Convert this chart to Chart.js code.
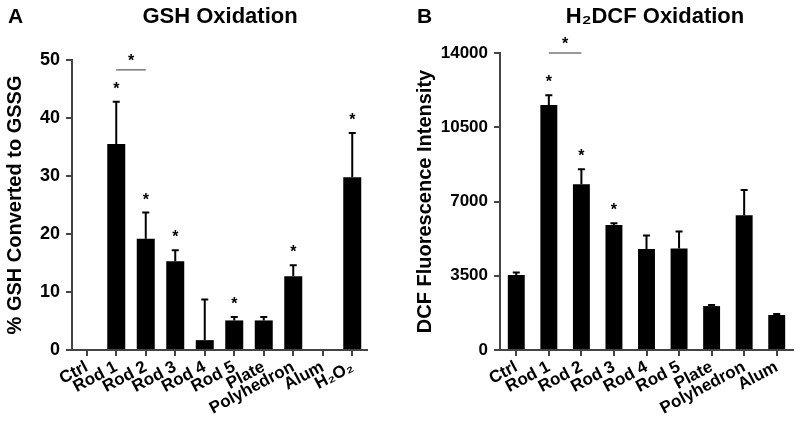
<!DOCTYPE html>
<html>
<head>
<meta charset="utf-8">
<script src="https://cdn.jsdelivr.net/npm/chart.js@4/dist/chart.umd.min.js"></script>
<style>
  body { margin: 0; background: #fff; }
  #wrap { position: relative; width: 800px; height: 425px; }
  canvas { position: absolute; top: 0; }
</style>
</head>
<body>
<div id="wrap">
  <canvas id="chartA" width="400" height="425" style="left:0"></canvas>
  <canvas id="chartB" width="400" height="425" style="left:400px"></canvas>
</div>
<script>
// panel A - GSH oxidation
var labelsA = ['Ctrl', 'Rod 1', 'Rod 2', 'Rod 3', 'Rod 4', 'Rod 5', 'Plate', 'Polyhedron', 'Alum', 'H\u2082O\u2082']
var gshMean = [0, 35.5, 19.2, 15.3, 1.7, 5.1, 5.1, 12.7, 0, 29.8]
var gshErr = [0, 7.3, 4.5, 1.9, 7.0, 0.6, 0.6, 1.9, 0, 7.6]
var gshSig = [0, 1, 1, 1, 0, 1, 0, 1, 0, 1]
var gshTicks = [0, 10, 20, 30, 40, 50]

// panel B - H2DCF oxidation
var labelsB = ['Ctrl', 'Rod 1', 'Rod 2', 'Rod 3', 'Rod 4', 'Rod 5', 'Plate', 'Polyhedron', 'Alum']
var dcfMean = [3540, 11550, 7810, 5890, 4760, 4790, 2070, 6350, 1650]
var dcfErr = [110, 460, 710, 80, 640, 790, 50, 1190, 50]
var dcfSig = [0, 1, 1, 1, 0, 0, 0, 0, 0]
var dcfTicks = [0, 3500, 7000, 10500, 14000]

// significance brackets: [from, to, height]
var gshBracket = [1, 2, 48.3]
var dcfBracket = [1, 2, 14000]

var FONT = "'Liberation Sans', Arial, Helvetica, sans-serif"

function errPlugin(mean, err, sig, bracket, letter, title, titleX){
  return {
    id: 'errs',
    afterDatasetsDraw(chart){
      const ctx = chart.ctx
      const x = chart.scales.x
      const y = chart.scales.y
      ctx.save()
      ctx.strokeStyle = '#000'
      ctx.fillStyle = '#000'
      ctx.lineWidth = 2
      for(let i = 0; i < mean.length; i++){
        const px = x.getPixelForValue(i)
        const top = y.getPixelForValue(mean[i] + err[i])
        if(err[i] > 0){
          ctx.beginPath()
          ctx.moveTo(px, y.getPixelForValue(mean[i]))
          ctx.lineTo(px, top)
          ctx.moveTo(px - 3.5, top)
          ctx.lineTo(px + 3.5, top)
          ctx.stroke()
        }
        if(sig[i]){
          ctx.font = 'bold 16px ' + FONT
          ctx.textAlign = 'center'
          ctx.textBaseline = 'alphabetic'
          ctx.fillText('*', px, top - 17 + 9)
        }
      }
      // bracket
      const bx1 = x.getPixelForValue(bracket[0])
      const bx2 = x.getPixelForValue(bracket[1])
      const by = y.getPixelForValue(bracket[2])
      ctx.strokeStyle = '#777'
      ctx.lineWidth = 1.5
      ctx.beginPath()
      ctx.moveTo(bx1, by)
      ctx.lineTo(bx2, by)
      ctx.stroke()
      ctx.font = 'bold 16px ' + FONT
      ctx.textAlign = 'center'
      ctx.fillText('*', (bx1 + bx2) / 2, by - 13 + 9)
      // panel letter and title
      ctx.font = 'bold 21px ' + FONT
      ctx.textAlign = 'left'
      ctx.fillText(letter, letter == 'A' ? 8 : 17, 23)
      ctx.font = 'bold 22px ' + FONT
      ctx.textAlign = 'center'
      ctx.fillText(title, titleX, 23)
      ctx.restore()
    }
  }
}

function makeChart(id, labels, mean, err, sig, ticks, bracket, opt){
  const ctx = document.getElementById(id)
  return new Chart(ctx, {
    type: 'bar',
    data: {
      labels: labels,
      datasets: [{
        data: mean,
        backgroundColor: '#000',
        borderWidth: 0,
        barPercentage: opt.barPct,
        categoryPercentage: 1
      }]
    },
    options: {
      responsive: false,
      animation: false,
      layout: { padding: { left: 0, right: opt.padRight, top: opt.padTop, bottom: 0 } },
      plugins: { legend: { display: false }, tooltip: { enabled: false } },
      scales: {
        x: {
          grid: { display: true, drawOnChartArea: false, offset: false, tickLength: 6, color: '#444', lineWidth: 2 },
          border: { display: true, color: '#444', width: 2 },
          ticks: {
            color: '#000', font: { family: FONT, size: 17, weight: 'bold' },
            minRotation: 28, maxRotation: 28, padding: 1, autoSkip: false
          },
          afterFit(s){ s.height = 75 }
        },
        y: {
          min: ticks[0],
          max: ticks[ticks.length - 1],
          afterBuildTicks(s){ s.ticks = ticks.map(v => ({ value: v })) },
          grid: { display: true, drawOnChartArea: false, tickLength: 6, color: '#444', lineWidth: 2 },
          border: { display: true, color: '#444', width: 2 },
          ticks: {
            color: '#000', padding: 6, font: { family: FONT, size: opt.tickSize, weight: 'bold' },
            callback: v => String(v)
          },
          title: {
            display: true, text: opt.yTitle, color: '#000',
            font: { family: FONT, size: 20, weight: 'bold' },
            padding: { top: opt.titlePad, bottom: 0 }
          },
          afterFit(s){ s.width = opt.yWidth }
        }
      }
    },
    plugins: [errPlugin(mean, err, sig, bracket, opt.letter, opt.title, opt.titleX)]
  })
}

makeChart('chartA', labelsA, gshMean, gshErr, gshSig, gshTicks, gshBracket, {
  barPct: 0.61, padRight: 33, padTop: 60, yWidth: 72, titlePad: 3, tickSize: 18,
  yTitle: '% GSH Converted to GSSG', letter: 'A', title: 'GSH Oxidation', titleX: 220
})
makeChart('chartB', labelsB, dcfMean, dcfErr, dcfSig, dcfTicks, dcfBracket, {
  barPct: 0.52, padRight: 7, padTop: 53, yWidth: 100, titlePad: 13, tickSize: 17,
  yTitle: 'DCF Fluorescence Intensity', letter: 'B', title: 'H\u2082DCF Oxidation', titleX: 255
})
</script>
</body>
</html>
